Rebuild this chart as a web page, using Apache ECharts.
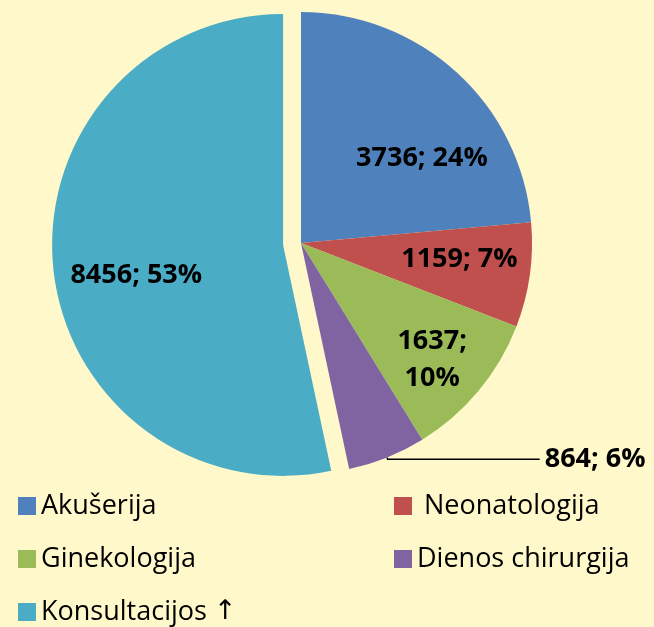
<!DOCTYPE html>
<html>
<head>
<meta charset="utf-8">
<script src="https://cdn.jsdelivr.net/npm/echarts@6/dist/echarts.min.js"></script>
<style>
  html, body { margin: 0; padding: 0; background: #FFF8CA; }
  #chart { width: 654px; height: 627px; }
</style>
</head>
<body>
<div id="chart"></div>
<script>
// duomenys
var categories = ["Akušerija", "Neonatologija", "Ginekologija", "Dienos chirurgija", "Konsultacijos ↑"];
var values = [3736, 1159, 1637, 864, 8456];
var colors = ["#4F81BD", "#C0504D", "#9BBB59", "#8064A2", "#4BACC6"];

// label nudges (Excel "best fit" positions)
var labelShift = [[41, 3], [41, 0], [40, 41], [0, 0], [-29, 18]];

var chart = echarts.init(document.getElementById("chart"));

var seriesData = categories.map(function (name, i) {
  var item = { name: name, value: values[i] };
  if (i === 2) {
    item.label = { formatter: "{c};\n{d}%", lineHeight: 37 };
  }
  if (i === 3) {
    item.label = { position: "outside", align: "left" };
    item.labelLine = { show: true, length: 2, length2: 152, lineStyle: { color: "#000", width: 1.5 } };
  }
  if (i === 4) {
    item.selected = true;
  }
  return item;
});

var legendText = {
  fontFamily: "Open Sans",
  fontSize: 27,
  color: "#000",
  lineHeight: 28,
  rich: {
    arr: { fontFamily: "DejaVu Sans", fontSize: 27, color: "#000", lineHeight: 28 }
  }
};

chart.setOption({
  backgroundColor: "#FFF8CA",
  color: colors,
  legend: [
    {
      orient: "vertical",
      left: 13,
      top: 487,
      height: 140,
      itemWidth: 18,
      itemHeight: 18,
      itemGap: 25,
      icon: "rect",
      data: [categories[0], categories[2], categories[4]],
      formatter: function (name) {
        return name.replace("↑", "{arr|↑}");
      },
      textStyle: legendText,
      selectedMode: false
    },
    {
      orient: "vertical",
      left: 389,
      top: 487,
      itemWidth: 18,
      itemHeight: 18,
      itemGap: 25,
      icon: "rect",
      data: [categories[1], categories[3]],
      formatter: function (name) {
        return name === categories[1] ? " " + name : name;
      },
      textStyle: legendText,
      selectedMode: false
    }
  ],
  series: [
    {
      type: "pie",
      center: [301, 243],
      radius: 231,
      startAngle: 90,
      clockwise: true,
      percentPrecision: 0,
      avoidLabelOverlap: false,
      selectedMode: "multiple",
      selectedOffset: 18,
      emphasis: { disabled: true },
      select: { disabled: false, itemStyle: {} },
      animation: false,
      label: {
        show: true,
        position: "inside",
        formatter: "{c}; {d}%",
        fontFamily: "Open Sans",
        fontWeight: "bold",
        fontSize: 27,
        lineHeight: 40,
        color: "#000",
        textBorderWidth: 0
      },
      labelLine: { show: false },
      labelLayout: function (params) {
        var s = labelShift[params.dataIndex];
        return { dx: s[0], dy: s[1] };
      },
      data: seriesData
    }
  ]
});
</script>
</body>
</html>
